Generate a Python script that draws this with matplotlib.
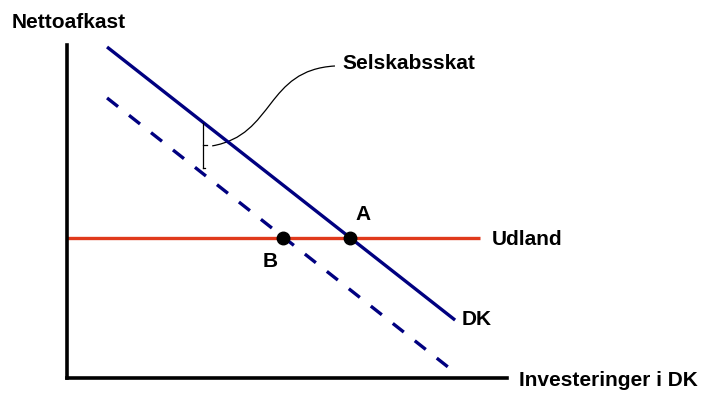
import numpy as np
import matplotlib
matplotlib.use("Agg")
import matplotlib.pyplot as plt
from matplotlib.path import Path
from matplotlib.patches import PathPatch

# ---- skitse-data (akser 0..100) ----
dk_x = [9.1, 88.2]
dk_y = [99.4, 17.4]
dk_skat_x = [9.1, 86.6]
dk_skat_y = [84.1, 3.3]
udland_x = [0.0, 93.9]
udland_y = [41.9, 41.9]
punkt_navne = ["A", "B"]
punkt_x = [64.3, 49.1]
punkt_y = [42.0, 42.0]
skat_x = 30.9
skat_y = [76.6, 63.1]
kurve_x = [33.0, 47.3, 45.0, 60.9]
kurve_y = [69.7, 73.0, 92.5, 93.7]

NAVY = "#000080"
RED = "#E0391C"

plt.rcParams["font.family"] = ["Liberation Sans", "DejaVu Sans"]
fig = plt.figure(figsize=(7.05, 3.94), dpi=100)
ax = fig.add_axes([67 / 705, 16 / 394, 440 / 705, 333 / 394])
ax.set_xlim(0, 100)
ax.set_ylim(0, 100)
for side in ["top", "right"]:
    ax.spines[side].set_visible(False)
for side in ["left", "bottom"]:
    ax.spines[side].set_linewidth(2.6)
ax.set_xticks([])
ax.set_yticks([])

ax.plot(udland_x, udland_y, color=RED, lw=2.4, solid_capstyle="butt")
ax.plot(dk_x, dk_y, color=NAVY, lw=2.4, solid_capstyle="butt")
ax.plot(dk_skat_x, dk_skat_y, color=NAVY, lw=2.4, dashes=(4.2, 4.2),
        dash_capstyle="butt")
ax.plot(punkt_x, punkt_y, "o", color="black", ms=9, zorder=5)

# skat-klamme og kurve til teksten
ax.plot([skat_x, skat_x], skat_y, color="black", lw=0.9)
ax.plot([skat_x, skat_x + 0.4], [skat_y[1], skat_y[1]], color="black", lw=0.9)
mid = (skat_y[0] + skat_y[1]) / 2
ax.plot([skat_x, skat_x + 0.9], [mid, mid], color="black", lw=0.9)
verts = list(zip(kurve_x, kurve_y))
path = Path(verts, [Path.MOVETO, Path.CURVE4, Path.CURVE4, Path.CURVE4])
ax.add_patch(PathPatch(path, fc="none", ec="black", lw=0.9))

fs = 15
kw = dict(fontsize=fs, fontweight="bold", clip_on=False)
ax.text(62.5, 94.3, "Selskabsskat", ha="left", va="center", **kw)
ax.text(-12.5, 106.9, "Nettoafkast", ha="left", va="center", **kw)
ax.text(96.6, 41.7, "Udland", ha="left", va="center", **kw)
ax.text(89.8, 17.7, "DK", ha="left", va="center", **kw)
ax.text(67.3, 49.2, punkt_navne[0], ha="center", va="center", **kw)
ax.text(46.1, 35.1, punkt_navne[1], ha="center", va="center", **kw)
ax.text(102.7, -0.9, "Investeringer i DK", ha="left", va="center", **kw)

fig.savefig("out.png", dpi=100)
